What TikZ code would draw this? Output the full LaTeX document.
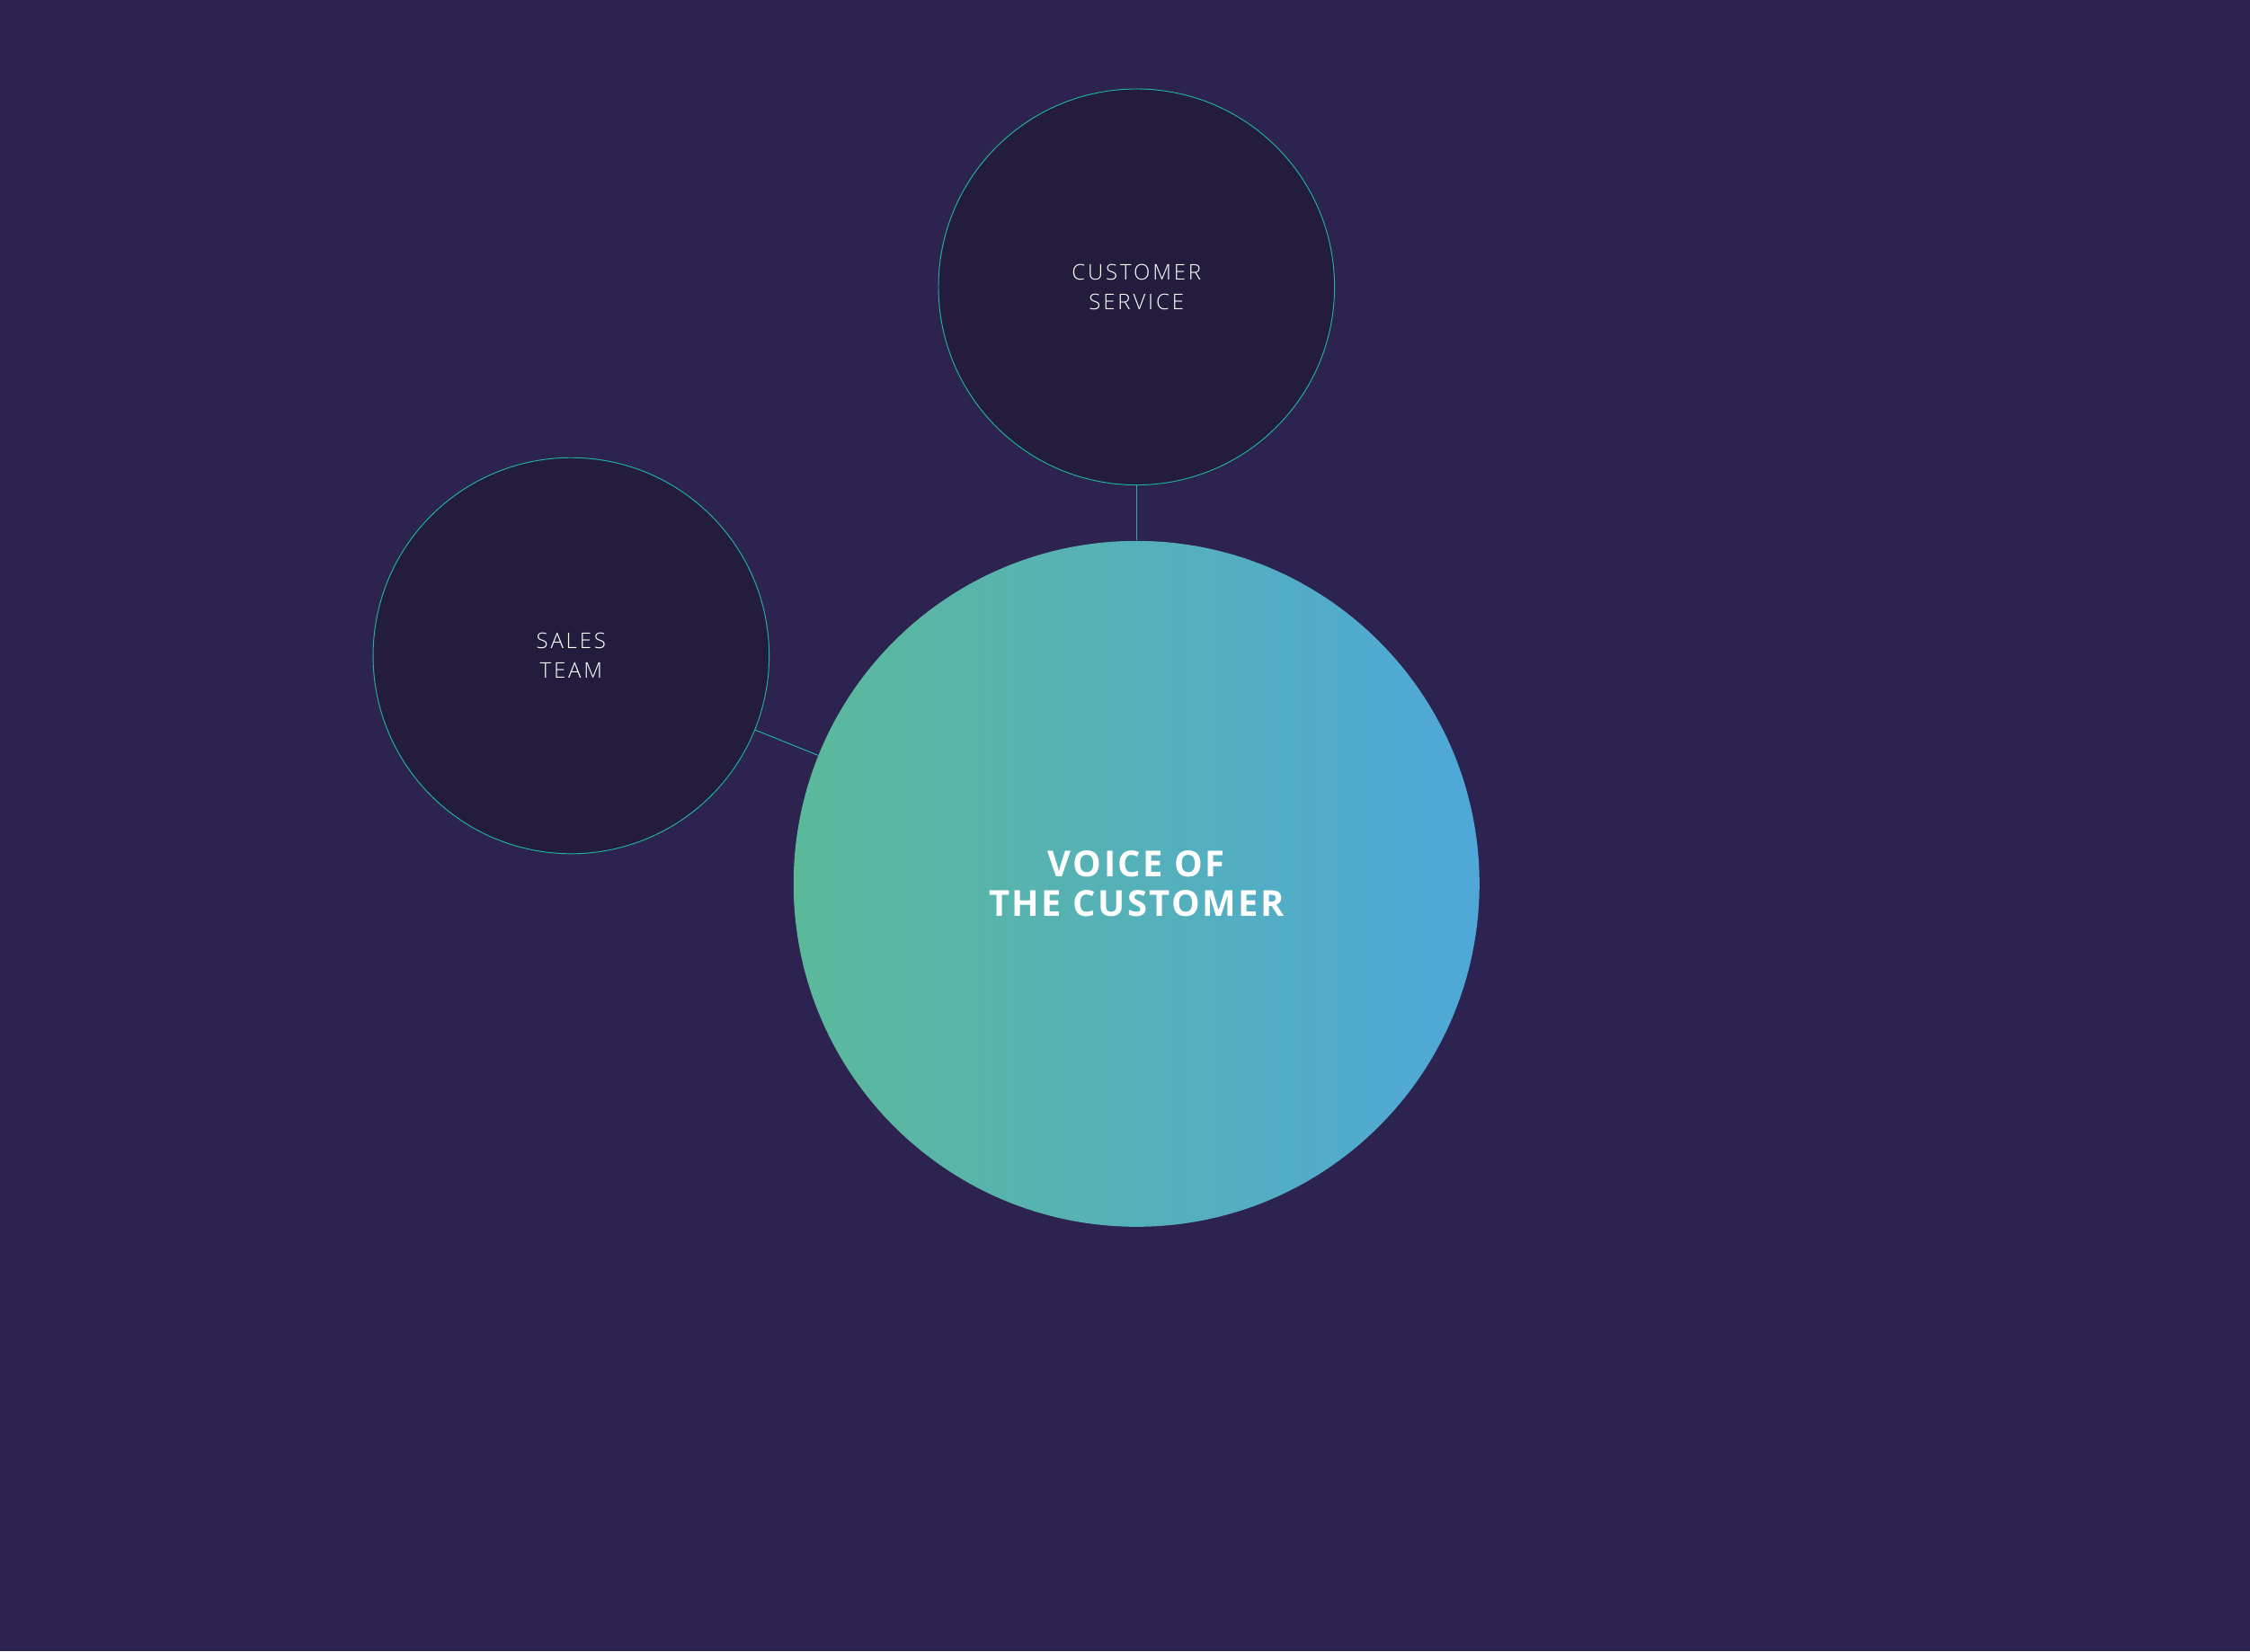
\documentclass[tikz,border=0pt]{standalone}
\usepackage{fontspec}
\setmainfont{Open Sans}
\newfontfamily\labelfont[LetterSpace=12]{Open Sans Light}
\newfontfamily\titlefont[LetterSpace=6]{Open Sans Bold}
\definecolor{bgpurple}{HTML}{2D2350}
\definecolor{darkdisc}{HTML}{231C3C}
\definecolor{tealline}{HTML}{1FB3A0}
\definecolor{gradleft}{HTML}{5BB99A}
\definecolor{gradright}{HTML}{4FA8D8}
\tikzset{
  SmallDisc/.style = { circle, draw = tealline, line width = 0.6pt, fill = darkdisc,
                       minimum size = 276pt, inner sep = 0pt, text = white,
                       align = center, font = \labelfont\fontsize{15}{21}\selectfont },
  BigDisc/.style = { circle, minimum size = 478pt, inner sep = 0pt,
                     left color = gradleft, right color = gradright, text = white,
                     align = center, font = \titlefont\fontsize{25}{28}\selectfont },
  Link/.style = { draw = tealline, line width = 0.6pt } }
\begin{document}
\begin{tikzpicture}[x=1pt,y=-1pt]
  \fill[bgpurple] (0,0) rectangle (1568,1151);
  \useasboundingbox (0,0) rectangle (1568,1151);

  \node[BigDisc] (voc) at (792,616) {VOICE OF\\THE CUSTOMER};
  \node[SmallDisc] (service) at (792,200) {CUSTOMER\\SERVICE};
  \node[SmallDisc] (sales) at (398,457) {SALES\\TEAM};

  \draw[Link] (service.south) -- (voc.north);
  \draw[Link] (sales) -- (voc);
\end{tikzpicture}
\end{document}
